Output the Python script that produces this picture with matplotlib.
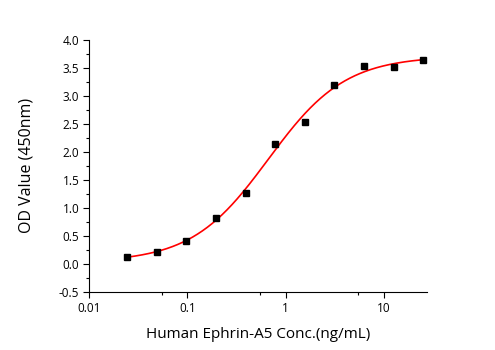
import numpy as np
import matplotlib.pyplot as plt
from matplotlib.ticker import FixedLocator, NullFormatter, MultipleLocator

# data
conc = np.array([0.0244, 0.0488, 0.0977, 0.195, 0.39, 0.78, 1.5625, 3.125, 6.25, 12.5, 25.0])
od = np.array([0.12, 0.22, 0.41, 0.82, 1.26, 2.15, 2.54, 3.19, 3.53, 3.51, 3.64])

x_ticks = [0.01, 0.1, 1, 10]
x_ticklabels = ["0.01", "0.1", "1", "10"]
y_ticks = np.arange(-0.5, 4.01, 0.5)

# 4PL fit: grid over ec50/hill, bottom/top by linear least squares
best = None
for c in np.logspace(-0.6, 0.3, 120):
    for b in np.linspace(0.6, 2.5, 120):
        s = 1.0 / (1.0 + (c / conc) ** b)
        M = np.column_stack([1 - s, s])
        coef, res, _, _ = np.linalg.lstsq(M, od, rcond=None)
        err = np.sum((M @ coef - od) ** 2)
        if best is None or err < best[0]:
            best = (err, c, b, coef)
_, c, b, (bottom, top) = best

xs = np.logspace(np.log10(conc[0]), np.log10(conc[-1]), 300)
ys = bottom + (top - bottom) / (1.0 + (c / xs) ** b)

plt.rcParams['font.family'] = ['Open Sans', 'DejaVu Sans']

fig = plt.figure(figsize=(4.95, 3.5), dpi=100)
ax = fig.add_axes([0.180, 0.166, 0.683, 0.720])

ax.plot(xs, ys, color='red', lw=1.2, zorder=2)
ax.plot(conc, od, 's', color='black', ms=4, zorder=3)

ax.set_xscale('log')
ax.set_xlim(0.01, 27.5)
ax.set_ylim(-0.5, 4.0)

ax.xaxis.set_major_locator(FixedLocator(x_ticks))
ax.set_xticklabels(x_ticklabels)
ax.xaxis.set_minor_locator(FixedLocator([0.055, 0.55, 5.5]))
ax.xaxis.set_minor_formatter(NullFormatter())
ax.set_yticks(y_ticks)
ax.set_yticklabels([f"{v:.1f}" for v in y_ticks])
ax.yaxis.set_minor_locator(MultipleLocator(0.25))

for s in ['top', 'right']:
    ax.spines[s].set_visible(False)
for s in ['left', 'bottom']:
    ax.spines[s].set_linewidth(0.8)

ax.tick_params(which='major', direction='out', length=4, width=0.8, labelsize=8.5, pad=3)
ax.tick_params(which='minor', direction='out', length=2.5, width=0.8)

ax.set_xlabel("Human Ephrin-A5 Conc.(ng/mL)", fontsize=11, labelpad=9)
ax.set_ylabel("OD Value (450nm)", fontsize=11.5, labelpad=18)

fig.savefig("out.png", dpi=100)
